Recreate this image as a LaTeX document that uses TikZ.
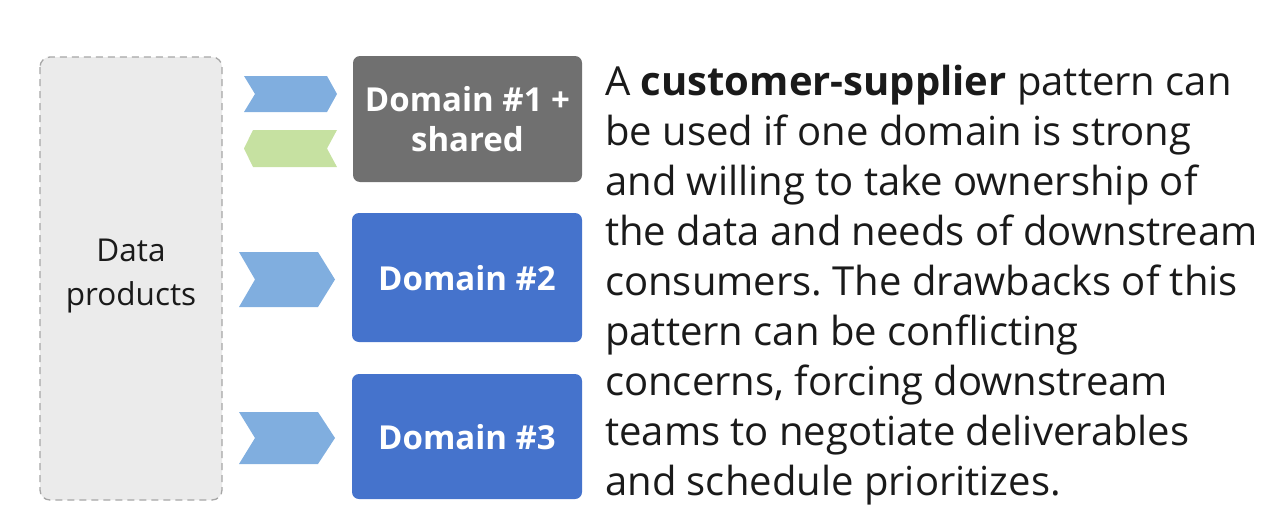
\documentclass[tikz,border=0pt]{standalone}
\usepackage{fontspec}
\setmainfont{Open Sans}
\frenchspacing
\definecolor{domblue}{HTML}{4573CC}
\definecolor{domgray}{HTML}{707070}
\definecolor{chevblue}{HTML}{80AEDF}
\definecolor{chevgreen}{HTML}{C6E1A1}
\definecolor{dpfill}{HTML}{EBEBEB}
\definecolor{dpline}{HTML}{A6A6A6}
\definecolor{txt}{HTML}{1A1A1A}
\begin{document}
\begin{tikzpicture}[x=1pt,y=-1pt,
  domtext/.style={text=white, font=\fontsize{33}{40}\selectfont\bfseries, align=center, inner sep=0},
  dombox/.style={rounded corners=7pt},
  body/.style={anchor=base west, inner sep=0, text=txt, font=\fontsize{40}{50}\selectfont}]
\useasboundingbox (0,0) rectangle (1287,530);
% data products
\draw[dpline, fill=dpfill, dash pattern=on 7pt off 5pt, line width=1.3pt, rounded corners=10pt] (40,57) rectangle (222,500);
\node[text=txt, font=\fontsize{31.5}{44}\selectfont, align=center] (dp) at (131,276) {Data\\products};
% domain boxes
\fill[domgray, dombox] (353,56) rectangle (582,182);
\node[domtext] (d1) at (467.5,119) {Domain \#1 +\\shared};
\fill[domblue, dombox] (352,213) rectangle (582,342);
\node[domtext] (d2) at (467,278) {Domain \#2};
\fill[domblue, dombox] (352,374) rectangle (582,499);
\node[domtext] (d3) at (467,437) {Domain \#3};
% chevrons
\fill[chevblue] (244,76) -- (327,76) -- (337,94) -- (327,112) -- (244,112) -- (255,94) -- cycle;
\fill[chevgreen] (253,130) -- (337,130) -- (327,148.5) -- (337,167) -- (253,167) -- (244,148.5) -- cycle;
\fill[chevblue] (239,252) -- (318,252) -- (335,279.5) -- (318,307) -- (239,307) -- (255,279.5) -- cycle;
\fill[chevblue] (239,412) -- (318,412) -- (335,438) -- (318,464) -- (239,464) -- (255,438) -- cycle;
% body text
\node[body] (l1) at (605,95) {A \textbf{customer-supplier} pattern can};
\node[body] (l2) at (605,145) {be used if one domain is strong};
\node[body] (l3) at (605,195) {and willing to take ownership of};
\node[body] (l4) at (605,245) {the data and needs of downstream};
\node[body] (l5) at (605,295) {consumers. The drawbacks of this};
\node[body] (l6) at (605,345) {pattern can be conflicting};
\node[body] (l7) at (605,395) {concerns, forcing downstream};
\node[body] (l8) at (605,445) {teams to negotiate deliverables};
\node[body] (l9) at (605,495) {and schedule prioritizes.};
\end{tikzpicture}
\end{document}
